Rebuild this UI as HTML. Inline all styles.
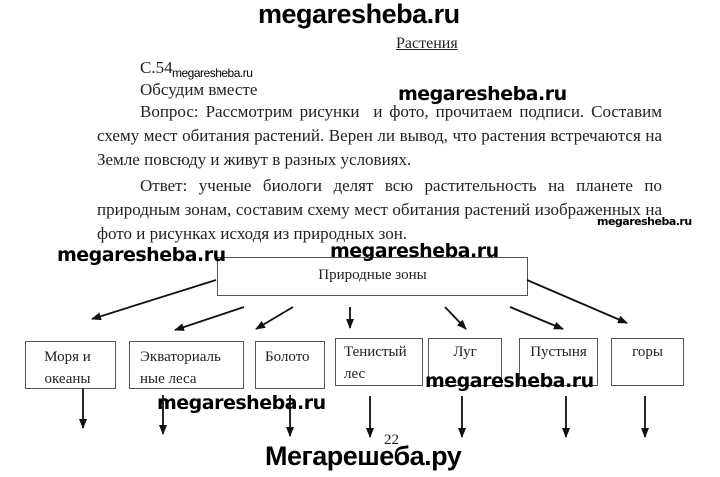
<!DOCTYPE html>
<html><head><meta charset="utf-8"><style>
body{margin:0;width:720px;height:477px;background:#fff;position:relative;overflow:hidden;font-family:"Liberation Serif","DejaVu Serif",serif;color:#222}
.t{position:absolute;font-size:17px;line-height:24px;white-space:nowrap}
.j{position:absolute;left:97px;width:565px;font-size:17px;line-height:24px;text-align:justify;text-align-last:justify;white-space:nowrap}
.w{position:absolute;font-family:"DejaVu Sans","Liberation Sans",sans-serif;font-weight:bold;color:#000;white-space:nowrap;letter-spacing:-0.5px}
.b{position:absolute;border:1.5px solid #555;box-sizing:border-box;font-size:15px;line-height:22px;padding:4px 0 0 9px;background:transparent}
</style></head><body>
<div class="w" style="left:258px;top:-1px;font-size:27px;font-family:'Liberation Sans',sans-serif">megaresheba.ru</div>
<div class="t" style="left:396px;top:32px;font-size:16px;text-decoration:underline">Растения</div>
<div class="t" style="left:140px;top:56px">С.54</div>
<div class="w" style="left:172px;top:66px;font-size:12px;font-weight:normal;font-family:'Liberation Sans',sans-serif">megaresheba.ru</div>
<div class="t" style="left:140px;top:78px">Обсудим вместе</div>
<div class="w" style="left:398px;top:83px;font-size:19px">megaresheba.ru</div>
<div class="j" style="top:100px;left:140px;width:522px">Вопрос: Рассмотрим рисунки &nbsp;и фото, прочитаем подписи. Составим</div>
<div class="j" style="top:124px">схему мест обитания растений. Верен ли вывод, что растения встречаются на</div>
<div class="t" style="left:97px;top:148px">Земле повсюду и живут в разных условиях.</div>
<div class="j" style="top:174px;left:140px;width:522px">Ответ: ученые биологи делят всю растительность на планете по</div>
<div class="j" style="top:198px">природным зонам, составим схему мест обитания растений изображенных на</div>
<div class="w" style="left:597px;top:215px;font-size:11px">megaresheba.ru</div>
<div class="t" style="left:97px;top:222px">фото и рисунках исходя из природных зон.</div>

<div class="b" style="left:217px;top:257px;width:311px;height:39px;padding:6px 0 0 0;text-align:center">Природные зоны</div>
<div class="w" style="left:57px;top:244px;font-size:19px">megaresheba.ru</div>
<div class="w" style="left:330px;top:240px;font-size:19px">megaresheba.ru</div>

<div class="b" style="left:25px;top:341px;width:91px;height:48px;text-align:center;padding:4px 6px 0 0">Моря и<br>океаны</div>
<div class="b" style="left:129px;top:341px;width:115px;height:48px;padding-left:10px">Экваториаль<br>ные леса</div>
<div class="b" style="left:255px;top:341px;width:70px;height:48px">Болото</div>
<div class="b" style="left:335px;top:338px;width:88px;height:48px;padding:2px 0 0 8px">Тенистый<br>лес</div>
<div class="b" style="left:428px;top:338px;width:74px;height:48px;padding:2px 0 0 0;text-align:center">Луг</div>
<div class="b" style="left:519px;top:338px;width:79px;height:48px;padding:2px 0 0 0;text-align:center">Пустыня</div>
<div class="b" style="left:611px;top:338px;width:73px;height:48px;padding:2px 0 0 0;text-align:center">горы</div>

<svg width="720" height="477" style="position:absolute;left:0;top:0">
<defs><marker id="a" markerWidth="10" markerHeight="8" refX="9" refY="4" orient="auto" markerUnits="userSpaceOnUse"><path d="M0,0 L10,4 L0,8 Z" fill="#111"/></marker></defs>
<g stroke="#111" stroke-width="1.8" marker-end="url(#a)">
<line x1="216" y1="280" x2="92" y2="319"/>
<line x1="244" y1="307" x2="175" y2="330"/>
<line x1="293" y1="307" x2="256" y2="329"/>
<line x1="350" y1="307" x2="350" y2="328"/>
<line x1="445" y1="307" x2="466" y2="329"/>
<line x1="510" y1="307" x2="563" y2="329"/>
<line x1="527" y1="280" x2="627" y2="323"/>
<line x1="83" y1="389" x2="83" y2="428"/>
<line x1="163" y1="395" x2="163" y2="434"/>
<line x1="290" y1="395" x2="290" y2="436"/>
<line x1="370" y1="396" x2="370" y2="437"/>
<line x1="462" y1="396" x2="462" y2="437"/>
<line x1="566" y1="396" x2="566" y2="437"/>
<line x1="645" y1="396" x2="645" y2="437"/>
</g></svg>
<div class="w" style="left:425px;top:370px;font-size:19px">megaresheba.ru</div>
<div class="w" style="left:157px;top:392px;font-size:19px">megaresheba.ru</div>
<div class="t" style="left:384px;top:428px;font-size:15px">22</div>
<div class="w" style="left:265px;top:441px;font-size:27px;font-family:'Liberation Sans',sans-serif">Мегарешеба.ру</div>
</body></html>
